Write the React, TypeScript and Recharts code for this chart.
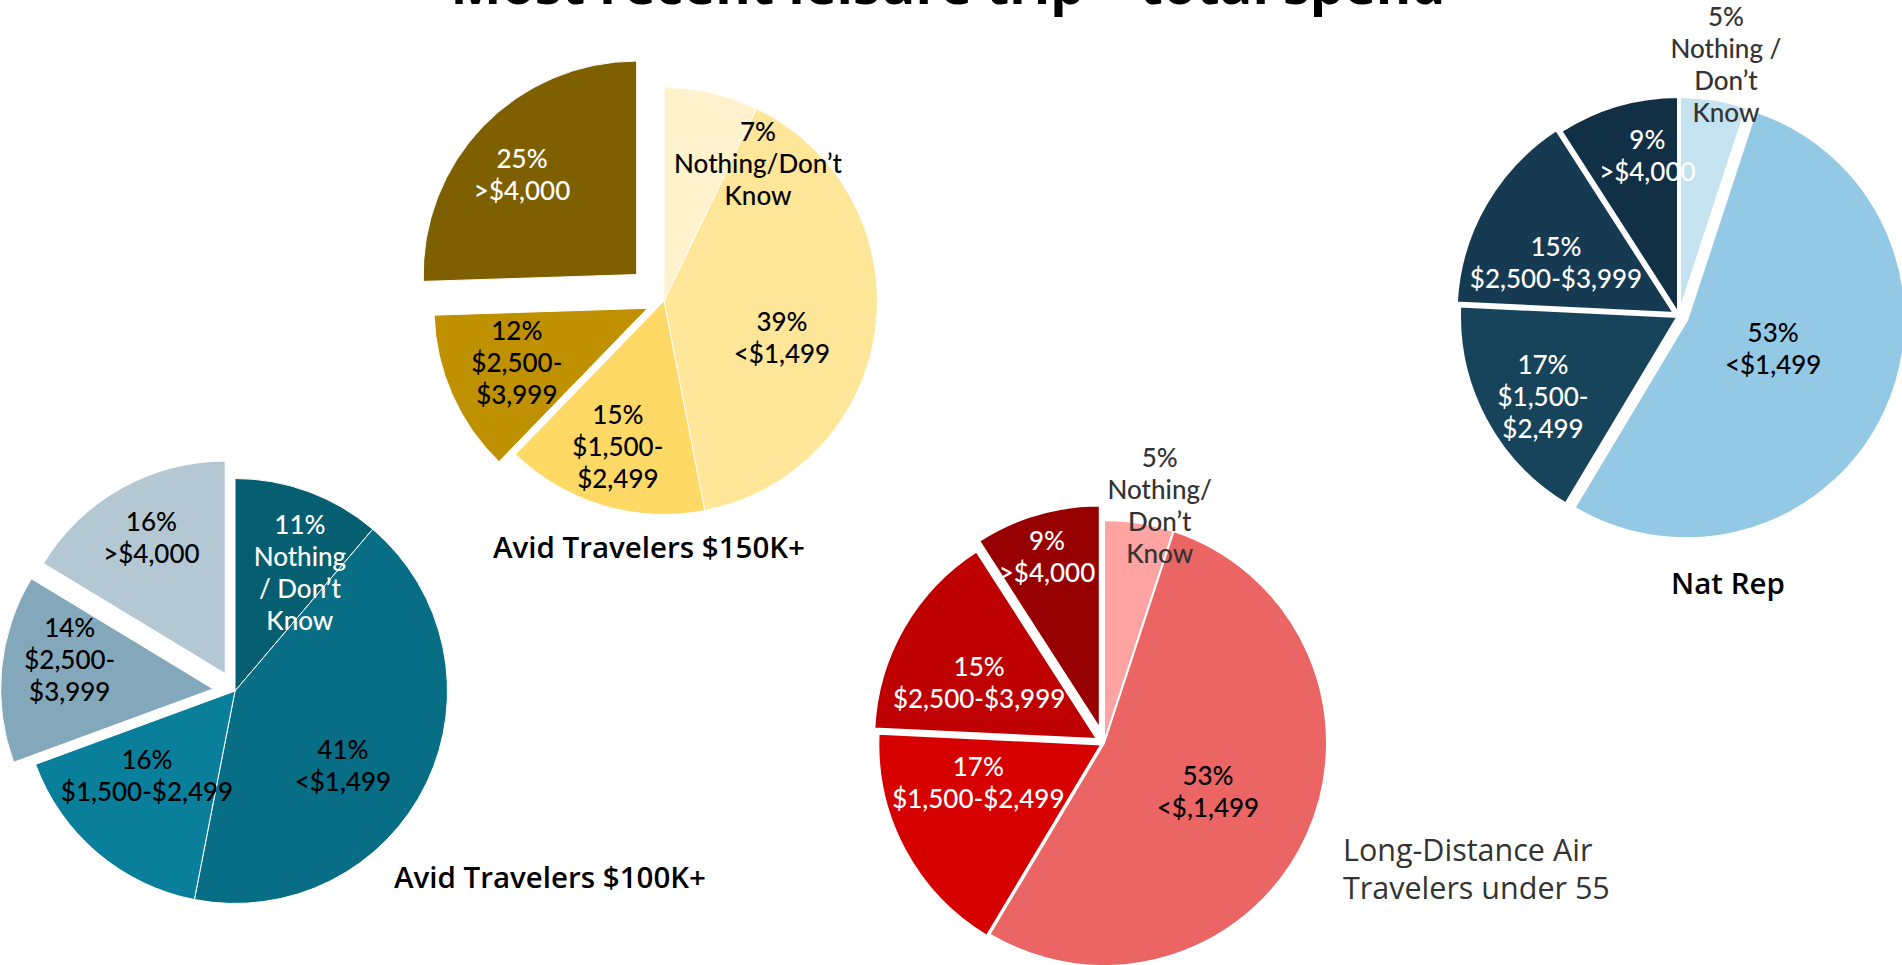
import { PieChart, Pie, Cell } from "recharts";

const W = 1902;
const H = 965;
const RAD = Math.PI / 180;

// shares (%) per group, clockwise from 12 o'clock
const avid150Values = [7, 39, 15, 12, 25];
const avid100Values = [11, 41, 16, 14, 16];
const airValues = [5, 53, 17, 15, 9];
const natRepValues = [5, 53, 17, 15, 9];

// category text under the percentage, one entry per line
const avid150Cats = [["Nothing/Don’t", "Know"], ["<$1,499"], ["$1,500-", "$2,499"], ["$2,500-", "$3,999"], [">$4,000"]];
const avid100Cats = [["Nothing", "/ Don’t", "Know"], ["<$1,499"], ["$1,500-$2,499"], ["$2,500-", "$3,999"], [">$4,000"]];
const airCats = [["Nothing/", "Don’t", "Know"], ["<$,1,499"], ["$1,500-$2,499"], ["$2,500-$3,999"], [">$4,000"]];
const natRepCats = [["Nothing /", "Don’t", "Know"], ["<$1,499"], ["$1,500-", "$2,499"], ["$2,500-$3,999"], [">$4,000"]];

const mainTitle = "Most recent leisure trip – total spend";

type PieCfg = {
  key: string;
  values: number[];
  cats: string[][];
  cx: number;
  cy: number;
  r: number;
  stroke: number;
  colors: string[];
  textColors: string[];
  explode: number[];
  labelK: number[];
  labelNudge: number[];
};

const pies: PieCfg[] = [
  {
    key: "avid150",
    values: avid150Values,
    cats: avid150Cats,
    cx: 664,
    cy: 301,
    r: 213,
    stroke: 1,
    colors: ["#FFF2CC", "#FFE699", "#FFD966", "#BF9000", "#7F6000"],
    textColors: ["#000", "#000", "#000", "#000", "#fff"],
    explode: [0, 0, 0, 18, 38],
    labelK: [0.78, 0.58, 0.715, 0.665, 0.713],
    labelNudge: [21.6, 9.9, 1.1, 1.2, -3.1],
  },
  {
    key: "avid100",
    values: avid100Values,
    cats: avid100Cats,
    cx: 235,
    cy: 691,
    r: 212,
    stroke: 1,
    colors: ["#065E71", "#076E86", "#0A7F9B", "#84A8BB", "#B4C8D3"],
    textColors: ["#fff", "#000", "#000", "#000", "#000"],
    explode: [0, 0, 0, 22, 20],
    labelK: [0.635, 0.62, 0.577, 0.69, 0.73],
    labelNudge: [8.6, 9.1, 5.6, 6, 0.9],
  },
  {
    key: "air",
    values: airValues,
    cats: airCats,
    cx: 1104,
    cy: 743,
    r: 222,
    stroke: 2,
    colors: ["#FFA3A3", "#EB6565", "#D60000", "#BE0000", "#960000"],
    textColors: ["#333", "#000", "#fff", "#fff", "#fff"],
    explode: [0, 0, 3, 8, 15],
    labelK: [1.1, 0.517, 0.58, 0.588, 0.81],
    labelNudge: [4.1, 0.5, 11, -4.6, -0.7],
  },
  {
    key: "natrep",
    values: natRepValues,
    cats: natRepCats,
    cx: 1679,
    cy: 316,
    r: 218,
    stroke: 4,
    colors: ["#C5E2F0", "#94C9E5", "#17435B", "#153A52", "#112F45"],
    textColors: ["#333", "#000", "#fff", "#fff", "#fff"],
    explode: [0, 8, 0, 4, 0],
    labelK: [1.172, 0.42, 0.726, 0.597, 0.75],
    labelNudge: [1.5, -6.2, -2.6, -6.7, 5.2],
  },
];

const LABEL_FONT = "Lato, 'Open Sans', sans-serif";
const TITLE_FONT = "'Open Sans', 'Noto Sans', sans-serif";
const LABEL_SIZE = 26;
const LH = 32;

// offset of each slice along its own mid angle (exploded slices)
function sliceOffsets(values: number[], dist: number[]) {
  const total = values.reduce((a, b) => a + b, 0);
  let acc = 0;
  return values.map((v, i) => {
    const mid = (90 - ((acc + v / 2) / total) * 360) * RAD;
    acc += v;
    return [dist[i] * Math.cos(mid), -dist[i] * Math.sin(mid)];
  });
}

const makeLabel = (cfg: PieCfg, offsets: number[][]) => (props: any) => {
  const { midAngle, index, value } = props;
  const cx = props.cx ?? cfg.cx;
  const cy = props.cy ?? cfg.cy;
  const ang = (midAngle - cfg.labelNudge[index]) * RAD;
  const rr = cfg.labelK[index] * cfg.r;
  const x = cx + offsets[index][0] + rr * Math.cos(ang);
  const y = cy + offsets[index][1] - rr * Math.sin(ang);
  const lines = [`${value}%`, ...cfg.cats[index]];
  const y0 = y - ((lines.length - 1) * LH) / 2 + LABEL_SIZE * 0.36;
  return (
    <text
      x={x}
      y={y0}
      textAnchor="middle"
      fill={cfg.textColors[index]}
      fontFamily={LABEL_FONT}
      fontSize={LABEL_SIZE}
      fontWeight={500}
    >
      {lines.map((l, i) => (
        <tspan key={i} x={x} y={y0 + i * LH}>
          {l}
        </tspan>
      ))}
    </text>
  );
};

export default function App() {
  return (
    <div style={{ position: "absolute", left: 0, top: 0, width: W, height: H, background: "#fff", overflow: "hidden" }}>
      <PieChart width={W} height={H} margin={{ top: 0, right: 0, bottom: 0, left: 0 }}>
        {pies.map((cfg) => {
          const data = cfg.values.map((v, i) => ({ name: cfg.cats[i].join(" "), value: v }));
          const offsets = sliceOffsets(cfg.values, cfg.explode);
          return (
            <Pie
              key={cfg.key}
              data={data}
              dataKey="value"
              nameKey="name"
              cx={cfg.cx}
              cy={cfg.cy}
              outerRadius={cfg.r + cfg.stroke / 2}
              startAngle={90}
              endAngle={-270}
              stroke="#fff"
              strokeWidth={cfg.stroke}
              labelLine={false}
              label={makeLabel(cfg, offsets)}
              isAnimationActive={false}
            >
              {data.map((d, i) => (
                <Cell
                  key={d.name}
                  fill={cfg.colors[i]}
                  stroke="#fff"
                  strokeWidth={cfg.stroke}
                  transform={`translate(${offsets[i][0]},${offsets[i][1]})`}
                />
              ))}
            </Pie>
          );
        })}
      </PieChart>
      <svg width={W} height={H} style={{ position: "absolute", left: 0, top: 0, pointerEvents: "none" }}>
        <text x={948} y={4} textAnchor="middle" fontFamily={TITLE_FONT} fontWeight={700} fontSize={54} fill="#000">
          {mainTitle}
        </text>
        <text x={649} y={558} textAnchor="middle" fontFamily={TITLE_FONT} fontWeight={600} fontSize={29.5} fill="#000">
          Avid Travelers $150K+
        </text>
        <text x={550} y={888} textAnchor="middle" fontFamily={TITLE_FONT} fontWeight={600} fontSize={29.5} fill="#000">
          Avid Travelers $100K+
        </text>
        <text x={1343} fontFamily={TITLE_FONT} fontSize={30.5} fill="#333">
          <tspan x={1343} y={861}>Long-Distance Air</tspan>
          <tspan x={1343} y={899}>Travelers under 55</tspan>
        </text>
        <text x={1728} y={594} textAnchor="middle" fontFamily={TITLE_FONT} fontWeight={600} fontSize={29.5} fill="#000">
          Nat Rep
        </text>
      </svg>
    </div>
  );
}
